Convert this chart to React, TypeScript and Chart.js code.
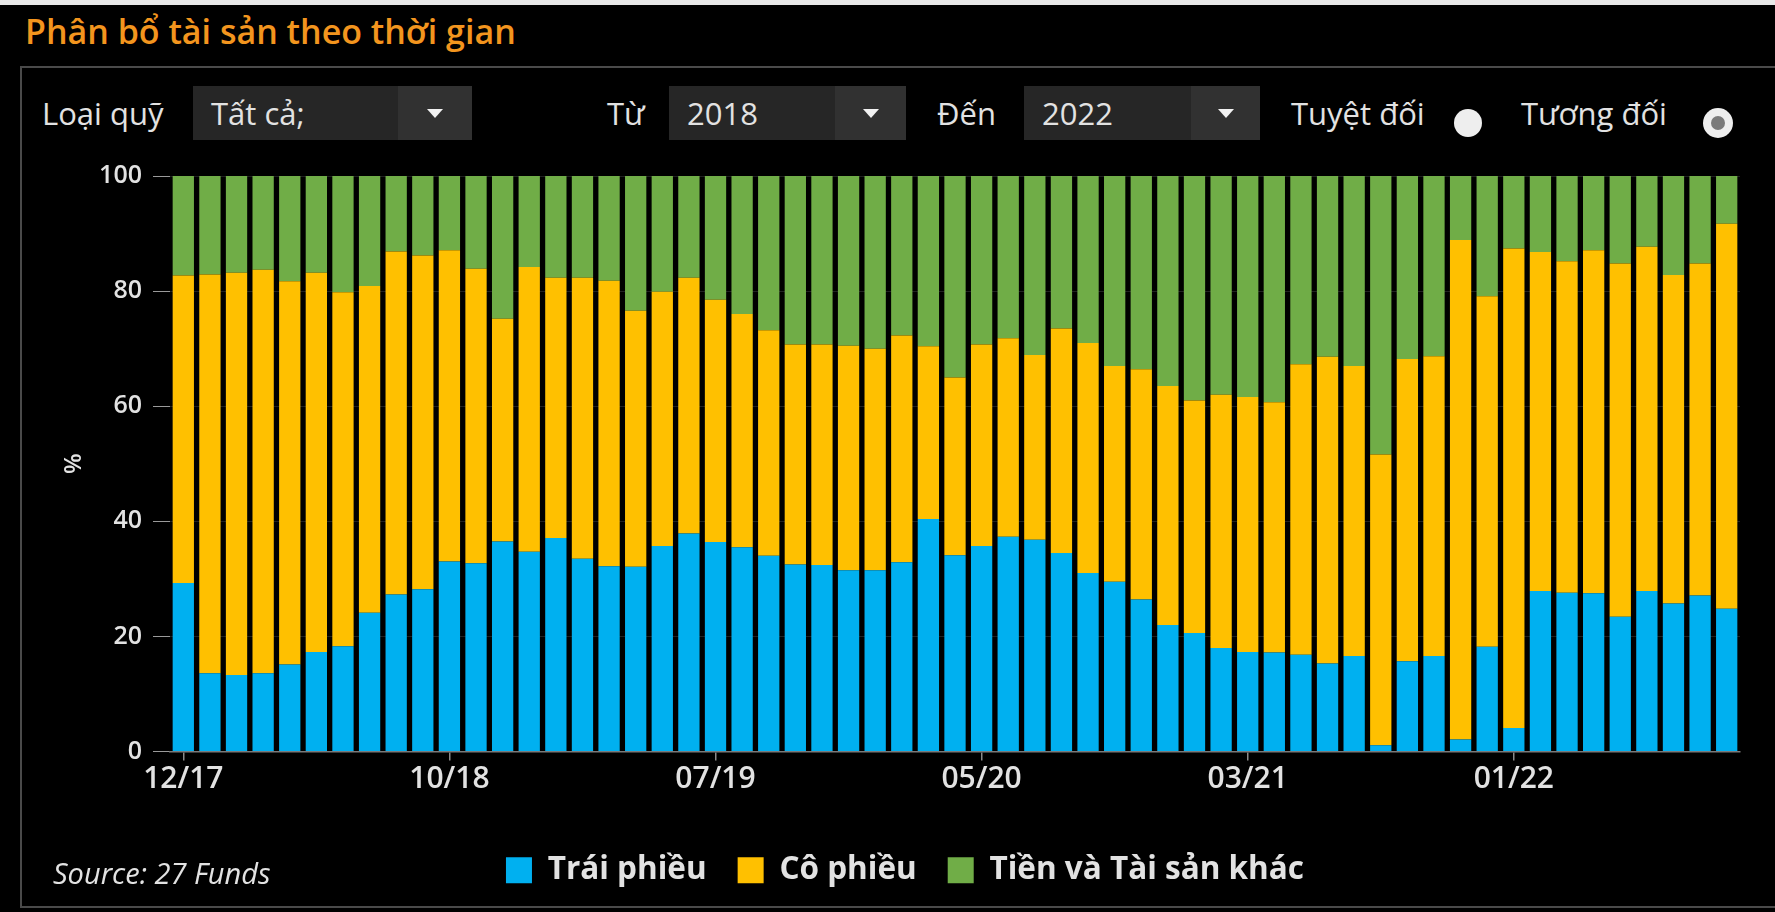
import React, { useEffect, useRef } from 'react';
import { Chart, registerables } from 'chart.js';

Chart.register(...registerables);

// ---------- data ----------
const categories = [
  '12/17', '01/18', '02/18', '03/18', '04/18', '05/18', '06/18', '07/18', '08/18', '09/18',
  '10/18', '11/18', '12/18', '01/19', '02/19', '03/19', '04/19', '05/19', '06/19', '06/19',
  '07/19', '08/19', '09/19', '10/19', '11/19', '12/19', '01/20', '02/20', '03/20', '04/20',
  '05/20', '06/20', '07/20', '08/20', '09/20', '10/20', '11/20', '12/20', '01/21', '02/21',
  '03/21', '04/21', '05/21', '06/21', '07/21', '08/21', '09/21', '10/21', '11/21', '12/21',
  '01/22', '02/22', '03/22', '04/22', '05/22', '06/22', '07/22', '08/22', '09/22',
];

const bonds = [
  29.3, 13.6, 13.3, 13.6, 15.1, 17.3, 18.3, 24.1, 27.3, 28.2,
  33.0, 32.7, 36.5, 34.7, 37.1, 33.5, 32.2, 32.1, 35.7, 37.9,
  36.4, 35.5, 34.0, 32.5, 32.4, 31.5, 31.5, 32.9, 40.4, 34.1,
  35.7, 37.3, 36.8, 34.5, 31.0, 29.5, 26.4, 22.0, 20.6, 18.0,
  17.3, 17.2, 16.8, 15.3, 16.6, 1.1, 15.7, 16.6, 2.1, 18.2,
  4.1, 27.9, 27.6, 27.5, 23.4, 27.9, 25.7, 27.1, 24.8,
];

const stocks = [
  53.4, 69.3, 69.9, 70.1, 66.6, 65.9, 61.5, 56.8, 59.6, 58.0,
  54.1, 51.2, 38.7, 49.5, 45.2, 48.8, 49.6, 44.5, 44.2, 44.4,
  42.1, 40.5, 39.2, 38.2, 38.3, 39.0, 38.5, 39.4, 30.0, 30.9,
  35.0, 34.5, 32.1, 39.0, 40.0, 37.5, 40.0, 41.5, 40.4, 44.0,
  44.3, 43.5, 50.5, 53.3, 50.4, 50.5, 52.5, 52.1, 86.8, 60.9,
  83.3, 58.9, 57.6, 59.6, 61.4, 59.8, 57.1, 57.7, 66.9,
];

const cash = [
  17.3, 17.1, 16.8, 16.3, 18.3, 16.8, 20.2, 19.1, 13.1, 13.8,
  12.9, 16.1, 24.8, 15.8, 17.7, 17.7, 18.2, 23.4, 20.1, 17.7,
  21.5, 24.0, 26.8, 29.3, 29.3, 29.5, 30.0, 27.7, 29.6, 35.0,
  29.3, 28.2, 31.1, 26.5, 29.0, 33.0, 33.6, 36.5, 39.0, 38.0,
  38.4, 39.3, 32.7, 31.4, 33.0, 48.4, 31.8, 31.3, 11.1, 20.9,
  12.6, 13.2, 14.8, 12.9, 15.2, 12.3, 17.2, 15.2, 8.3,
];

const seriesNames = ['Trái phiều', 'Cô phiều', 'Tiền và Tài sản khác'];
const yTickValues = [0, 20, 40, 60, 80, 100];
const labelEvery = 10;

// ---------- styles ----------
const COLORS = ['#00B0F0', '#FFC000', '#70AD47'];
const FONT = "'Open Sans', 'Noto Sans', 'DejaVu Sans', sans-serif";
const TEXT = '#e2e2e2';
const CTRL_SIZE = 31;

function Select({ left, width, arrowW, text }: { left: number; width: number; arrowW: number; text: string }) {
  return (
    <div
      style={{
        position: 'absolute', left, top: 86, width, height: 54, background: '#262626',
        display: 'flex', alignItems: 'center',
      }}
    >
      <span style={{ paddingLeft: 18, color: TEXT, fontSize: CTRL_SIZE, fontFamily: FONT, lineHeight: 1 }}>{text}</span>
      <div
        style={{
          position: 'absolute', right: 0, top: 0, width: arrowW, height: 54, background: '#313131',
          display: 'flex', alignItems: 'center', justifyContent: 'center',
        }}
      >
        <div style={{ width: 0, height: 0, borderLeft: '8px solid transparent', borderRight: '8px solid transparent', borderTop: '9px solid #f2f2f2' }} />
      </div>
    </div>
  );
}

function Label({ left, text }: { left: number; text: string }) {
  return (
    <div
      style={{
        position: 'absolute', left, top: 86, height: 54, display: 'flex', alignItems: 'center',
        color: TEXT, fontSize: CTRL_SIZE, fontFamily: FONT, whiteSpace: 'nowrap', lineHeight: 1,
      }}
    >
      {text}
    </div>
  );
}

export default function App() {
  const canvasRef = useRef<HTMLCanvasElement | null>(null);

  useEffect(() => {
    if (!canvasRef.current) return;
    const chart = new Chart(canvasRef.current, {
      type: 'bar',
      data: {
        labels: categories,
        datasets: [
          { label: seriesNames[0], data: bonds, backgroundColor: COLORS[0], borderWidth: 0, barPercentage: 0.8, categoryPercentage: 1 },
          { label: seriesNames[1], data: stocks, backgroundColor: COLORS[1], borderWidth: 0, barPercentage: 0.8, categoryPercentage: 1 },
          { label: seriesNames[2], data: cash, backgroundColor: COLORS[2], borderWidth: 0, barPercentage: 0.8, categoryPercentage: 1 },
        ],
      },
      options: {
        animation: false,
        responsive: false,
        maintainAspectRatio: false,
        layout: { padding: { left: 50, right: 35, top: 23, bottom: 0 } },
        plugins: {
          legend: {
            position: 'bottom',
            labels: {
              color: TEXT,
              font: { family: FONT, size: 31.5, weight: '700' },
              boxWidth: 26,
              boxHeight: 26,
              padding: 31,
            },
          },
          tooltip: { enabled: true },
        },
        scales: {
          x: {
            stacked: true,
            offset: true,
            grid: {
              display: true,
              drawOnChartArea: false,
              offset: false,
              tickLength: 9,
              lineWidth: 1.5,
              tickColor: (ctx: any) => (ctx.index % labelEvery === 0 ? '#8a8a8a' : 'rgba(0,0,0,0)'),
              color: 'rgba(0,0,0,0)',
            },
            border: { display: true, color: '#7a7a7a', width: 1.5 },
            ticks: {
              autoSkip: false,
              maxRotation: 0,
              minRotation: 0,
              padding: 1,
              color: TEXT,
              font: { family: FONT, size: 30, weight: '600' },
              callback: (_v: any, i: number) => (i % labelEvery === 0 ? categories[i] : ''),
            },
            afterFit: (s: any) => { s.height = 72; },
          },
          y: {
            stacked: true,
            min: 0,
            max: 100,
            afterBuildTicks: (s: any) => { s.ticks = yTickValues.map((v) => ({ value: v })); },
            ticks: {
              padding: 11,
              color: TEXT,
              font: { family: FONT, size: 25, weight: '600' },
            },
            grid: {
              color: 'rgba(255,255,255,0.13)',
              tickColor: '#9a9a9a',
              tickLength: 17,
              lineWidth: 1,
            },
            border: { display: false },
            title: {
              display: true,
              text: '%',
              color: TEXT,
              font: { family: FONT, size: 24, weight: '600' },
              padding: { top: -10, bottom: 0 },
            },
            afterFit: (s: any) => { s.width = 100; },
          },
        },
      } as any,
    });
    return () => chart.destroy();
  }, []);

  return (
    <div style={{ position: 'relative', width: 1775, height: 912, background: '#000', overflow: 'hidden', fontFamily: FONT }}>
      <style>{'body{margin:0;background:#000;}'}</style>
      <div style={{ position: 'absolute', left: 0, top: 0, width: 1775, height: 5, background: '#e9e9e9' }} />
      <div
        style={{
          position: 'absolute', left: 25, top: 14, color: '#F3951E', fontSize: 34, fontWeight: 600,
          lineHeight: 1, whiteSpace: 'nowrap', fontFamily: FONT,
        }}
      >
        Phân bổ tài sản theo thời gian
      </div>
      <div
        style={{
          position: 'absolute', left: 20, top: 66, width: 1760, height: 838,
          borderTop: '2px solid #4a4a4a', borderLeft: '2px solid #4a4a4a', borderBottom: '2px solid #4a4a4a',
        }}
      />
      <Label left={42} text="Loại quỹ" />
      <Select left={193} width={279} arrowW={74} text="Tất cả;" />
      <Label left={607} text="Từ" />
      <Select left={669} width={237} arrowW={71} text="2018" />
      <Label left={937} text="Đến" />
      <Select left={1024} width={236} arrowW={69} text="2022" />
      <Label left={1291} text="Tuyệt đối" />
      <div style={{ position: 'absolute', left: 1454, top: 109, width: 28, height: 28, borderRadius: '50%', background: '#eeeeee' }} />
      <Label left={1521} text="Tương đối" />
      <div
        style={{
          position: 'absolute', left: 1703, top: 108, width: 30, height: 30, borderRadius: '50%', background: '#eeeeee',
          display: 'flex', alignItems: 'center', justifyContent: 'center',
        }}
      >
        <div style={{ width: 14, height: 14, borderRadius: '50%', background: '#7a7a7a' }} />
      </div>
      <canvas
        ref={canvasRef}
        width={1755}
        height={746}
        style={{ position: 'absolute', left: 20, top: 150, width: 1755, height: 746 }}
      />
      <div
        style={{
          position: 'absolute', left: 53, top: 852, height: 40, display: 'flex', alignItems: 'center',
          color: TEXT, fontSize: 29, fontStyle: 'italic', fontFamily: FONT, whiteSpace: 'nowrap', lineHeight: 1,
        }}
      >
        Source: 27 Funds
      </div>
    </div>
  );
}
